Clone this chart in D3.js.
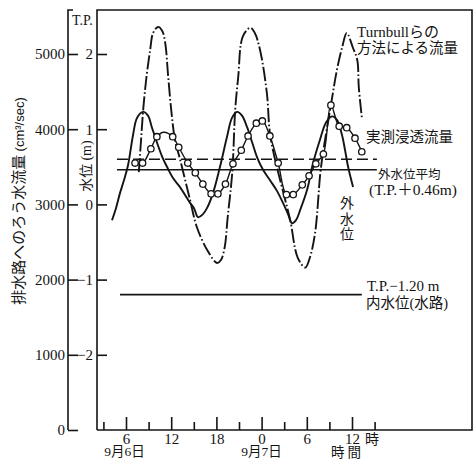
<!DOCTYPE html>
<html><head><meta charset="utf-8">
<script src="https://cdn.jsdelivr.net/npm/d3@7"></script>
<style>
html,body{margin:0;padding:0;background:#fff;}
svg{display:block;background:#fff;}
</style></head><body>
<svg id="c" width="474" height="460"></svg>
<script>
// ---------------- data ----------------
// hours counted from 9/6 0:00
const turnbullHours = [7.7, 8.0, 8.3, 8.7, 9.2, 9.6, 10.25, 10.8, 11.2, 11.6, 12.0, 12.5, 13.2, 14.5, 15.4, 16.8, 18.1, 18.6, 19.1, 19.5, 20.1, 20.5, 20.9, 21.5, 22.5, 23.1, 23.8, 24.7, 25.1, 25.8, 26.8, 27.8, 28.8, 29.8, 30.4, 31.1, 31.8, 32.2, 33.2, 34.0, 34.7, 35.3, 36.1, 36.7, 36.9, 37.3];
const turnbullFlow  = [3430, 3860, 4280, 4680, 5050, 5280, 5360, 5310, 5150, 4700, 4260, 3860, 3590, 3060, 2700, 2390, 2220, 2260, 2430, 2830, 3420, 4260, 4700, 5230, 5350, 5280, 5050, 4480, 3950, 3590, 3190, 2790, 2290, 2160, 2290, 2620, 3420, 3720, 4320, 4790, 5090, 5280, 5090, 4920, 4560, 4160];

const measuredHours = [7.2, 8.2, 9.3, 10.1, 11.0, 12.2, 13.0, 14.2, 15.2, 16.2, 17.3, 18.2, 19.2, 20.2, 21.3, 22.2, 23.3, 24.1, 25.1, 26.2, 27.3, 28.2, 29.4, 30.3, 31.2, 32.2, 33.2, 34.3, 35.3, 36.4, 37.3];
const measuredFlow  = [3550, 3550, 3740, 3900, 3960, 3900, 3760, 3550, 3420, 3270, 3140, 3140, 3270, 3540, 3720, 3910, 4080, 4110, 3910, 3550, 3130, 3130, 3260, 3380, 3540, 3670, 4320, 4040, 4020, 3880, 3700];
const unmarkedHours = [11.0];

const outerHours = [4.14, 4.67, 5.2, 5.73, 6.27, 6.93, 7.46, 8.26, 8.92, 9.45, 10.12, 10.78, 11.44, 12.24, 13.17, 14.5, 15.03, 15.56, 16.22, 16.75, 17.55, 18.48, 19.41, 20.07, 20.74, 21.4, 22.06, 22.73, 23.39, 24.19, 25.12, 26.04, 26.84, 27.51, 28.04, 28.57, 29.1, 30.03, 30.83, 31.75, 32.55, 33.35, 34.02, 34.68, 35.08, 35.48, 36.14];
const outerLevel = [-0.21, -0.05, 0.15, 0.32, 0.52, 0.92, 1.15, 1.23, 1.18, 1.02, 0.82, 0.64, 0.50, 0.35, 0.23, 0.02, -0.05, -0.17, -0.13, -0.05, 0.15, 0.50, 0.90, 1.15, 1.23, 1.18, 1.03, 0.83, 0.63, 0.46, 0.32, 0.18, 0.02, -0.13, -0.25, -0.21, -0.08, 0.19, 0.55, 0.86, 1.09, 1.17, 1.12, 0.92, 0.72, 0.50, 0.23];

const meanOuterLevel = 0.46;     // T.P.+0.46m
const innerWaterLevel = -1.20;   // T.P.-1.20m
const meanMeasuredFlow = 3600;   // dashed line
const refLineHours = [4.8, 39.3];
const innerLineHours = [5.2, 37.3];

const flowTicks = [0, 1000, 2000, 3000, 4000, 5000];
const levelTicks = [-2, -1, 0, 1, 2];
const majorHourTicks = [6, 12, 18, 24, 30, 36];
const minorHourTicks = [3, 9, 15, 21, 27, 33, 39];
const dateLabels = [{h: 5.8, t: "9月6日"}, {h: 24, t: "9月7日"}];

// ---------------- drawing ----------------
(function () {
const svg = d3.select("#c");
const SERIF = "'Liberation Serif','Noto Sans CJK JP',serif";
const CJK = "'Noto Sans CJK JP',sans-serif";
const INK = "#141414";

const x = d3.scaleLinear().domain([6, 36]).range([126, 352]);
const yFlow = d3.scaleLinear().domain([0, 5000]).range([430, 54]);
const yLevel = d3.scaleLinear().domain([-3, 2]).range([430, 54]);
const pL = 97, pR = 472, pT = 10, pB = 430, outerX = 68;

// frame
svg.append("path")
  .attr("d", `M${pL},${pB}V${pT}H${pR}V${pB}H${pL}`)
  .attr("fill", "none").attr("stroke", INK).attr("stroke-width", 1.6);
svg.append("path")
  .attr("d", `M${outerX + 5},${pT}H${outerX}V${pB}`)
  .attr("fill", "none").attr("stroke", INK).attr("stroke-width", 1.6);

function styleAxis(g, fs) {
  g.select(".domain").remove();
  g.selectAll(".tick line").attr("stroke", INK).attr("stroke-width", 1.6);
  g.selectAll(".tick text").attr("fill", INK).attr("font-family", SERIF).attr("font-size", fs);
}
// outer (flow) axis
svg.append("g").attr("transform", `translate(${outerX},0)`)
  .call(d3.axisLeft(yFlow).tickValues(flowTicks).tickSizeInner(-10).tickSizeOuter(0).tickPadding(3).tickFormat(d3.format("d")))
  .call(g => styleAxis(g, 15));
// inner (level) axis
svg.append("g").attr("transform", `translate(${pL},0)`)
  .call(d3.axisLeft(yLevel).tickValues(levelTicks).tickSizeInner(-10).tickSizeOuter(0).tickPadding(4)
    .tickFormat(d => d < 0 ? "\u2212" + Math.abs(d) : String(d)))
  .call(g => styleAxis(g, 15));
// time axis
svg.append("g").attr("transform", `translate(0,${pB})`)
  .call(d3.axisBottom(x).tickValues(majorHourTicks).tickSizeInner(-13).tickSizeOuter(0).tickPadding(3).tickFormat(h => String(h % 24)))
  .call(g => styleAxis(g, 15));
svg.append("g").attr("transform", `translate(0,${pB})`)
  .call(d3.axisBottom(x).tickValues(minorHourTicks).tickSizeInner(-8).tickSizeOuter(0).tickFormat(""))
  .call(g => styleAxis(g, 15));

// axis titles
svg.append("text").attr("x", 72).attr("y", 25).attr("font-family", SERIF).attr("font-size", 14).attr("fill", INK).text("T.P.");
const t1 = svg.append("text").attr("transform", "translate(24,201) rotate(-90)").attr("text-anchor", "middle").attr("fill", INK);
t1.append("tspan").attr("font-family", CJK).attr("font-size", 15).text("排水路へのろう水流量 ");
t1.append("tspan").attr("font-family", "'Liberation Sans',sans-serif").attr("font-size", 13).text("(cm³/sec)");
const t2 = svg.append("text").attr("transform", "translate(91,166) rotate(-90)").attr("text-anchor", "middle").attr("fill", INK);
t2.append("tspan").attr("font-family", CJK).attr("font-size", 14).text("水位 ");
t2.append("tspan").attr("font-family", SERIF).attr("font-size", 14).text("(m)");

svg.selectAll("text.date").data(dateLabels).join("text").attr("class", "date")
  .attr("x", d => x(d.h)).attr("y", 456).attr("text-anchor", "middle")
  .attr("font-family", SERIF).attr("font-size", 13.5).attr("fill", INK).text(d => d.t);
svg.append("text").attr("x", x(36) + 13).attr("y", 444).attr("font-family", CJK).attr("font-size", 14).attr("fill", INK).text("時");
svg.append("text").attr("x", 346).attr("y", 457).attr("text-anchor", "middle").attr("font-family", CJK).attr("font-size", 13.5).attr("fill", INK).text("時 間");

// reference lines
svg.append("line").attr("x1", x(refLineHours[0])).attr("x2", x(refLineHours[1]))
  .attr("y1", yFlow(meanMeasuredFlow)).attr("y2", yFlow(meanMeasuredFlow))
  .attr("stroke", INK).attr("stroke-width", 1.5).attr("stroke-dasharray", "11,5");
svg.append("line").attr("x1", x(refLineHours[0])).attr("x2", x(refLineHours[1]))
  .attr("y1", yLevel(meanOuterLevel)).attr("y2", yLevel(meanOuterLevel))
  .attr("stroke", INK).attr("stroke-width", 1.4);
svg.append("line").attr("x1", x(innerLineHours[0])).attr("x2", x(innerLineHours[1]))
  .attr("y1", yLevel(innerWaterLevel)).attr("y2", yLevel(innerWaterLevel))
  .attr("stroke", INK).attr("stroke-width", 1.8);

// curves
const curve = d3.curveCatmullRom.alpha(0.5);
const outerData = outerHours.map((h, i) => ({h, v: outerLevel[i]}));
svg.append("path").datum(outerData)
  .attr("d", d3.line().x(d => x(d.h)).y(d => yLevel(d.v)).curve(curve))
  .attr("fill", "none").attr("stroke", INK).attr("stroke-width", 1.9);

const tbData = turnbullHours.map((h, i) => ({h, v: turnbullFlow[i]}));
svg.append("path").datum(tbData)
  .attr("d", d3.line().x(d => x(d.h)).y(d => yFlow(d.v)).curve(curve))
  .attr("fill", "none").attr("stroke", INK).attr("stroke-width", 1.9).attr("stroke-dasharray", "14,2.5,1.6,2.5");

const msData = measuredHours.map((h, i) => ({h, v: measuredFlow[i]}));
svg.append("path").datum(msData)
  .attr("d", d3.line().x(d => x(d.h)).y(d => yFlow(d.v)).curve(curve))
  .attr("fill", "none").attr("stroke", INK).attr("stroke-width", 1.4);
svg.selectAll("circle.m").data(msData.filter(d => !unmarkedHours.includes(d.h))).join("circle").attr("class", "m")
  .attr("cx", d => x(d.h)).attr("cy", d => yFlow(d.v)).attr("r", 3.2)
  .attr("fill", "#fff").attr("stroke", INK).attr("stroke-width", 1.3);

// annotations (multi-line labels as one text element each)
function label(tx, ty, lines, lineGap) {
  const t = svg.append("text").attr("x", tx).attr("y", ty).attr("fill", INK);
  lines.forEach((ln, i) => {
    t.append("tspan").attr("x", ln.dx != null ? tx + ln.dx : tx).attr("dy", i === 0 ? 0 : lineGap)
      .attr("font-family", ln.fam || SERIF).attr("font-size", ln.fs).text(ln.s);
  });
}
label(357, 37, [{s: "Turnbullらの", fs: 15}, {s: "方法による流量", fs: 14.5, fam: CJK}], 16);
label(366, 142, [{s: "実測浸透流量", fs: 14.5, fam: CJK}], 0);
label(378, 179, [{s: "外水位平均", fs: 12.5, fam: CJK}, {s: "(T.P.＋0.46m)", fs: 15.5, dx: -9}], 16);
label(367, 291, [{s: "T.P.\u22121.20 m", fs: 15}, {s: "内水位(水路)", fs: 14.5, dx: -1}], 17);
svg.append("text").attr("x", 347).attr("y", 196)
  .attr("style", "writing-mode: vertical-rl; text-orientation: upright;")
  .attr("font-family", CJK).attr("font-size", 14).attr("letter-spacing", 1.5).attr("fill", INK).text("外水位");
})();
</script>
</body></html>
